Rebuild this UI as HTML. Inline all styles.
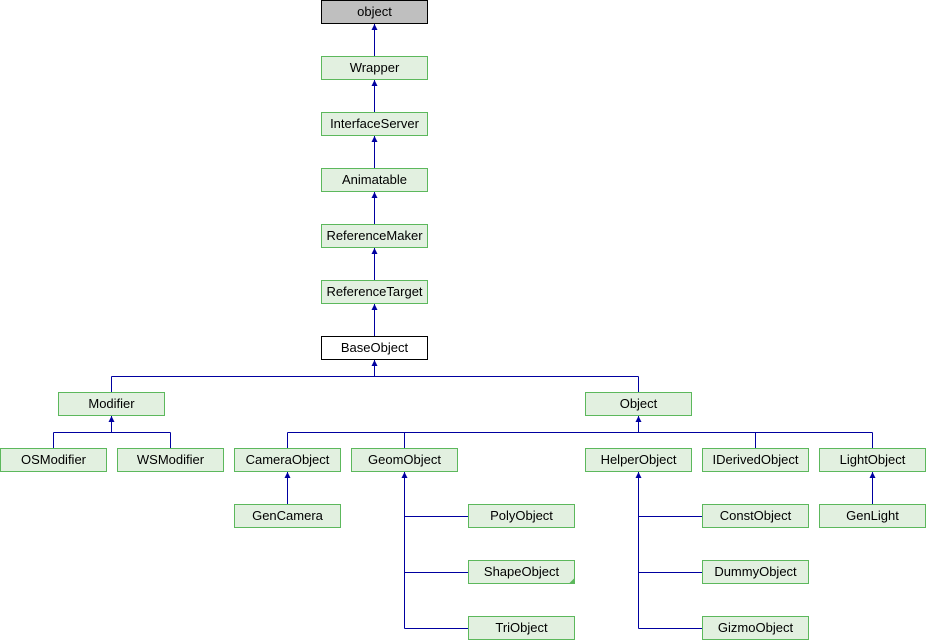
<!DOCTYPE html>
<html><head><style>body{margin:0;background:#fff}svg{display:block}text{font-family:"Liberation Sans",sans-serif;font-size:13px;text-anchor:middle}</style></head><body>
<svg width="926" height="640" xmlns="http://www.w3.org/2000/svg">
<g stroke="#0000a0" stroke-width="1" fill="none">
<path d="M374.5 23v33M374.5 79v33M374.5 135v33M374.5 191v33M374.5 247v33M374.5 303v33M374.5 359v17.5M111.5 376.5H638.5M111.5 376.5v16M638.5 376.5v16"/>
<path d="M111.5 415v17.5M53.5 432.5H170.5M53.5 432.5v16M170.5 432.5v16"/>
<path d="M638.5 415v17.5M287.5 432.5H872.5M287.5 432.5v16M404.5 432.5v16M755.5 432.5v16M872.5 432.5v16"/>
<path d="M287.5 471v33M872.5 471v33"/>
<path d="M404.5 471V628.5M404.5 516.5H468M404.5 572.5H468M404.5 628.5H468"/>
<path d="M638.5 471V628.5M638.5 516.5H702M638.5 572.5H702M638.5 628.5H702"/>
</g>
<g fill="#0000a0">
<path d="M374.5 24l-3 6h6z"/><path d="M374.5 80l-3 6h6z"/><path d="M374.5 136l-3 6h6z"/><path d="M374.5 192l-3 6h6z"/><path d="M374.5 248l-3 6h6z"/><path d="M374.5 304l-3 6h6z"/><path d="M374.5 360l-3 6h6z"/>
<path d="M111.5 416l-3 6h6z"/><path d="M638.5 416l-3 6h6z"/>
<path d="M287.5 472l-3 6h6z"/><path d="M404.5 472l-3 6h6z"/><path d="M638.5 472l-3 6h6z"/><path d="M872.5 472l-3 6h6z"/>
</g>
<rect x="321.5" y="0.5" width="106" height="23" fill="#bfbfbf" stroke="#000"/>
<text x="374.5" y="16">object</text>
<rect x="321.5" y="336.5" width="106" height="23" fill="#fff" stroke="#000"/>
<text x="374.5" y="352">BaseObject</text>
<g fill="#e2f0e0" stroke="#5cb85c">
<rect x="321.5" y="56.5" width="106" height="23"/>
<rect x="321.5" y="112.5" width="106" height="23"/>
<rect x="321.5" y="168.5" width="106" height="23"/>
<rect x="321.5" y="224.5" width="106" height="23"/>
<rect x="321.5" y="280.5" width="106" height="23"/>
<rect x="58.5" y="392.5" width="106" height="23"/>
<rect x="585.5" y="392.5" width="106" height="23"/>
<rect x="0.5" y="448.5" width="106" height="23"/>
<rect x="117.5" y="448.5" width="106" height="23"/>
<rect x="234.5" y="448.5" width="106" height="23"/>
<rect x="351.5" y="448.5" width="106" height="23"/>
<rect x="585.5" y="448.5" width="106" height="23"/>
<rect x="702.5" y="448.5" width="106" height="23"/>
<rect x="819.5" y="448.5" width="106" height="23"/>
<rect x="234.5" y="504.5" width="106" height="23"/>
<rect x="819.5" y="504.5" width="106" height="23"/>
<rect x="468.5" y="504.5" width="106" height="23"/>
<rect x="468.5" y="560.5" width="106" height="23"/>
<rect x="468.5" y="616.5" width="106" height="23"/>
<rect x="702.5" y="504.5" width="106" height="23"/>
<rect x="702.5" y="560.5" width="106" height="23"/>
<rect x="702.5" y="616.5" width="106" height="23"/>
</g>
<path d="M574.5 578v6h-6z" fill="#5cb85c"/>
<g fill="#000">
<text x="374.5" y="72">Wrapper</text>
<text x="374.5" y="128">InterfaceServer</text>
<text x="374.5" y="184">Animatable</text>
<text x="374.5" y="240">ReferenceMaker</text>
<text x="374.5" y="296">ReferenceTarget</text>
<text x="111.5" y="408">Modifier</text>
<text x="638.5" y="408">Object</text>
<text x="53.5" y="464">OSModifier</text>
<text x="170.5" y="464">WSModifier</text>
<text x="287.5" y="464">CameraObject</text>
<text x="404.5" y="464">GeomObject</text>
<text x="638.5" y="464">HelperObject</text>
<text x="755.5" y="464">IDerivedObject</text>
<text x="872.5" y="464">LightObject</text>
<text x="287.5" y="520">GenCamera</text>
<text x="872.5" y="520">GenLight</text>
<text x="521.5" y="520">PolyObject</text>
<text x="521.5" y="576">ShapeObject</text>
<text x="521.5" y="632">TriObject</text>
<text x="755.5" y="520">ConstObject</text>
<text x="755.5" y="576">DummyObject</text>
<text x="755.5" y="632">GizmoObject</text>
</g>
</svg>
</body></html>
